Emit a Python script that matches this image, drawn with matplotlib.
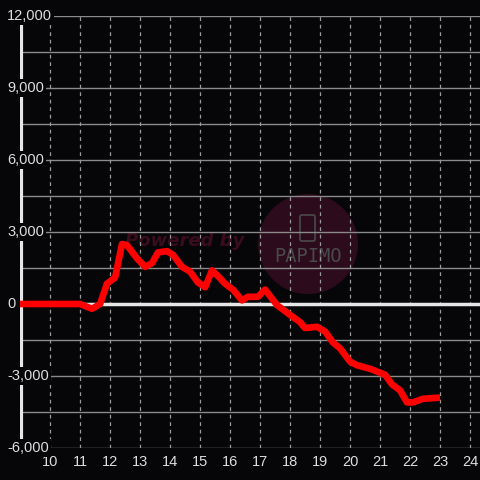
import matplotlib
matplotlib.use("Agg")
import matplotlib.pyplot as plt
from matplotlib.patches import Ellipse, FancyBboxPatch

# Data
hours = [9.0, 11.0, 11.4, 11.67, 11.9, 12.17, 12.4, 12.57, 12.9, 13.17, 13.4, 13.6,
         13.9, 14.1, 14.4, 14.67, 14.93, 15.17, 15.4, 15.65, 15.83, 16.1, 16.4, 16.6,
         16.93, 17.17, 17.57, 18.0, 18.33, 18.5, 18.9, 19.17, 19.43, 19.67, 20.0,
         20.23, 20.67, 21.17, 21.4, 21.67, 21.9, 22.1, 22.43, 23.0]
values = [0, 0, -200, 0, 850, 1100, 2500, 2450, 1900, 1550, 1700, 2150,
          2200, 2050, 1550, 1350, 900, 700, 1400, 1100, 850, 600, 150, 300,
          300, 600, -50, -450, -750, -1000, -950, -1150, -1600, -1850, -2400,
          -2550, -2700, -2950, -3350, -3600, -4100, -4100, -3950, -3900]
x_ticks = list(range(10, 25))
y_ticks = [-6000, -3000, 0, 3000, 6000, 9000, 12000]
y_labels = ["-6,000", "-3,000", "0", "3,000", "6,000", "9,000", "12,000"]
y_grid = list(range(-6000, 12001, 1500))

bg = "#060608"
fig = plt.figure(figsize=(4.8, 4.8), dpi=100, facecolor=bg)
ax = fig.add_axes([20/480, 1-448/480, 460/480, 432/480], facecolor=bg)
ax.set_xlim(9.0, 24.333)
ax.set_ylim(-6000, 12000)
for s in ax.spines.values():
    s.set_visible(False)
ax.set_xticks([]); ax.set_yticks([])

# watermark
ax.add_patch(Ellipse((18.6, 2500), 100/30, 100/24*1000, facecolor="#2c0b1c",
                     edgecolor="none", zorder=0))
ax.add_patch(FancyBboxPatch((9+(300-20)/30, (304-241)/24*1000), 15/30, 26/24*1000,
                            boxstyle="round,pad=0,rounding_size=0.06",
                            facecolor="none", edgecolor="#4a4a4a", lw=1.2, zorder=0.5,
                            mutation_aspect=1000/24*30))
ax.text(18.6, (304-257)/24*1000, "PAPIMO", color="#4a4a4a", fontsize=13.5,
        family="DejaVu Sans Mono", ha="center", va="center", zorder=0.5)
ax.text(9+(125-20)/30, (304-241)/24*1000, "Powered by", color="#3a0c1c", fontsize=13,
        fontweight="bold", style="italic", family="DejaVu Sans", ha="left",
        va="center", zorder=0.5)

# grid
for y in y_grid:
    if y != 0:
        ax.axhline(y, color="#8a8a8a", lw=1, zorder=1)
for x in x_ticks:
    ax.axvline(x, color="#9a9a9a", lw=0.9, ls=(0, (3, 3)), zorder=1)
ax.axhline(0, color="#e6e6e6", lw=2.5, zorder=2)
ax.axvline(9.0 + 1/30, color="#e6e6e6", lw=3, zorder=2)

# line
ax.plot(hours, values, color="#ff0000", lw=4.8, solid_joinstyle="round",
        solid_capstyle="butt", zorder=3)

# tick labels
for x in x_ticks:
    ax.text(x, -6000 - 14/24*1000, str(x), color="#dddddd", fontsize=10.5,
            family="Liberation Sans", ha="center", va="center", zorder=4)
for y, lab in zip(y_ticks, y_labels):
    ax.text(9 - 13/30, y, lab, color="#dddddd", fontsize=10.5, family="Liberation Sans",
            ha="left", va="center", zorder=4,
            bbox=dict(facecolor=bg, edgecolor="none", pad=1.5))
for t in ax.texts:
    t.set_clip_on(False)

fig.savefig("out.png", dpi=100, facecolor=bg)
